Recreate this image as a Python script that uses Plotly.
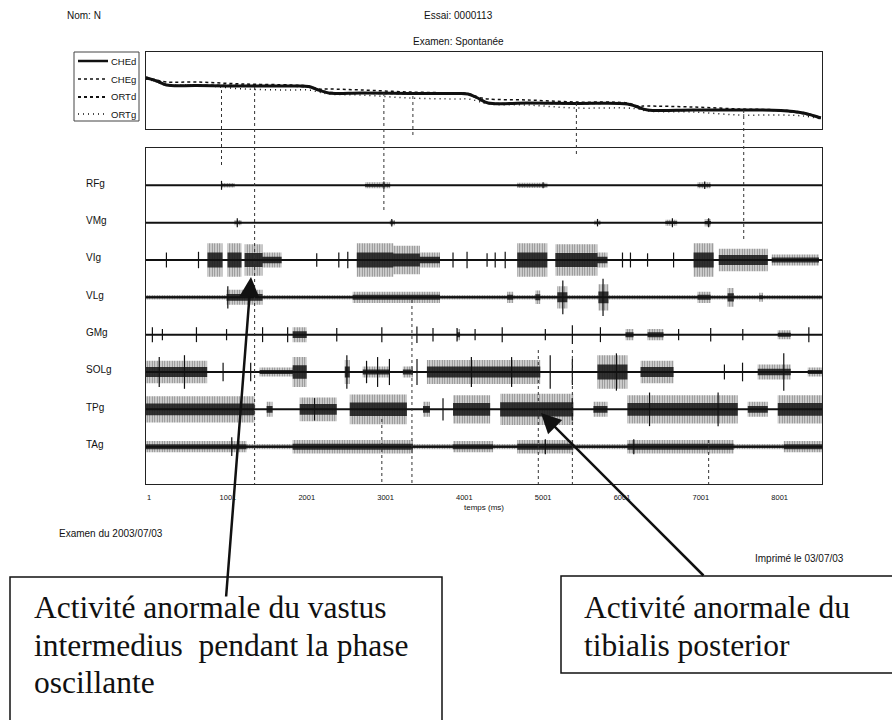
import plotly.graph_objects as go

W, H = 892, 720

# ---------------- data ----------------
time_range = [-38, 8538]
tick_vals = [1, 1001, 2001, 3001, 4001, 5001, 6001, 7001, 8001]
tick_text = [str(v) for v in tick_vals]

# top plot: segment trajectories (arbitrary units)
curve_t = [-38, 100, 221, 600, 1200, 1800, 2026, 2150, 2280, 2700, 3300, 3900, 4047,
           4170, 4302, 4800, 5400, 6070, 6200, 6325, 6900, 7500, 8015, 8300, 8523]
che_d = [51, 48, 44, 43.5, 43, 43, 42.5, 39, 36, 36, 35.5, 35.5, 35,
         31, 26, 26, 25.5, 25, 22, 19, 19, 19, 18.5, 16, 11]
che_g = [52, 49, 47, 47, 45, 44, 43, 40, 40, 39, 37, 36, 35.5,
         32, 30, 29, 27, 26, 23, 23, 22, 20, 19, 16.5, 11.5]
ort_d = [51, 47.5, 44, 43.5, 43.5, 43, 42, 39, 36.5, 36, 35.5, 35, 35,
         30.5, 26, 26, 25.5, 25, 21.5, 19, 19, 19, 18.5, 15.5, 11]
ort_g = [50, 47, 44, 44, 40, 39, 39, 37, 35, 34, 31, 30, 30,
         28, 25, 24, 21, 21, 20, 18, 17, 14, 14, 13, 10]

channels = ["RFg", "VMg", "VIg", "VLg", "GMg", "SOLg", "TPg", "TAg"]

# EMG bursts per channel: (start ms, end ms, half amplitude in channel units)
bursts = {
    "RFg": [(920, 1085, 0.06), (2740, 3060, 0.08), (4672, 5053, 0.07), (6960, 7126, 0.08)],
    "VMg": [(1085, 1174, 0.07), (3056, 3120, 0.07), (5650, 5730, 0.06), (6550, 6700, 0.08), (7050, 7130, 0.1)],
    "VIg": [(742, 933, 0.45), (996, 1174, 0.45), (1213, 1441, 0.42), (1441, 1683, 0.2),
            (2636, 3100, 0.45), (3100, 3437, 0.38), (3437, 3692, 0.2),
            (4672, 5053, 0.45), (5155, 5689, 0.42), (5689, 5816, 0.2),
            (6909, 7164, 0.45), (7228, 7850, 0.3), (7900, 8500, 0.15)],
    "VLg": [(-38, 8538, 0.06), (984, 1441, 0.2), (2585, 3692, 0.15), (4544, 4621, 0.15),
            (4901, 4964, 0.18), (5180, 5307, 0.3), (5701, 5829, 0.35), (6960, 7126, 0.15),
            (7340, 7420, 0.25), (7740, 7790, 0.12)],
    "GMg": [(1823, 2001, 0.2), (3908, 3946, 0.15), (6045, 6147, 0.15), (6325, 6528, 0.15), (7977, 8142, 0.12)],
    "SOLg": [(-38, 738, 0.3), (1403, 1823, 0.12), (1823, 2001, 0.4), (2484, 2547, 0.32),
             (2712, 3056, 0.15), (3221, 3348, 0.15), (3526, 4964, 0.32), (5689, 6070, 0.45),
             (6236, 6655, 0.3), (7723, 8142, 0.2), (8358, 8538, 0.12)],
    "TPg": [(-38, 1338, 0.35), (1492, 1568, 0.2), (1912, 2382, 0.32), (2547, 3272, 0.4),
            (3476, 3564, 0.2), (3857, 4328, 0.38), (4455, 5383, 0.42), (5638, 5816, 0.2),
            (6070, 7469, 0.38), (7596, 7850, 0.2), (7977, 8538, 0.38)],
    "TAg": [(-38, 8538, 0.07), (-38, 1238, 0.15), (1823, 3348, 0.18), (3857, 4366, 0.15),
            (4672, 5383, 0.18), (6070, 7418, 0.18), (8053, 8538, 0.15)],
}

# isolated spikes per channel: (time ms, half amplitude)
spikes = {
    "RFg": [(920, 0.12), (2980, 0.1), (5000, 0.08), (7050, 0.1)],
    "VMg": [(1120, 0.12), (3080, 0.1), (5690, 0.1), (6640, 0.12), (7100, 0.12)],
    "VIg": [(221, 0.2), (628, 0.22), (2128, 0.18), (2408, 0.2), (2522, 0.22), (3857, 0.2),
            (4035, 0.22), (4289, 0.18), (4392, 0.2), (4519, 0.22), (6007, 0.2), (6108, 0.2),
            (6325, 0.18), (6655, 0.2)],
    "VLg": [(1000, 0.3), (5250, 0.45), (5760, 0.5)],
    "GMg": [(43, 0.2), (170, 0.15), (602, 0.2), (984, 0.15), (1441, 0.2), (1759, 0.2), (2382, 0.18),
            (2954, 0.2), (3399, 0.22), (3603, 0.18), (3908, 0.18), (4137, 0.15), (4481, 0.2),
            (5028, 0.15), (5371, 0.25), (5727, 0.2), (6719, 0.15), (7126, 0.18), (7533, 0.15), (8371, 0.2)],
    "SOLg": [(130, 0.4), (450, 0.45), (940, 0.25), (1290, 0.25), (2510, 0.45), (2760, 0.3),
             (2900, 0.4), (3050, 0.35), (3400, 0.35), (4090, 0.4), (4600, 0.4), (5090, 0.45),
             (5371, 0.35), (5930, 0.5), (7300, 0.2), (7530, 0.25), (8053, 0.5)],
    "TPg": [(2100, 0.3), (3730, 0.3), (5370, 0.3), (6350, 0.45), (7220, 0.45)],
    "TAg": [(1050, 0.25), (5028, 0.2), (6150, 0.2)],
}

# gait events (ms) with the vertical extent of their dotted marks (page px)
event_times = [920, 1340, 2980, 2954, 3348, 3336, 5422, 5371, 4939, 7545, 7100]
event_spans = [(90, 165), (87, 484), (93, 210), (413, 484), (96, 135), (300, 484),
               (103, 155), (350, 484), (350, 484), (110, 240), (440, 484)]

# ---------------- helpers ----------------
def px(x):
    return x / W

def py(y):
    return 1 - y / H

FONT = "Liberation Sans, Arial, sans-serif"
SERIF = "Liberation Serif, Times New Roman, serif"
INK = "#111111"

fig = go.Figure()

# top plot curves
fig.add_trace(go.Scatter(x=curve_t, y=che_d, mode="lines", line=dict(color=INK, width=3, shape="spline"),
                         name="CHEd", xaxis="x", yaxis="y"))
fig.add_trace(go.Scatter(x=curve_t, y=che_g, mode="lines", line=dict(color=INK, width=1.5, dash="dot", shape="spline"),
                         name="CHEg", xaxis="x", yaxis="y"))
fig.add_trace(go.Scatter(x=curve_t, y=ort_d, mode="lines", line=dict(color=INK, width=2, dash="3px,3px", shape="spline"),
                         name="ORTd", xaxis="x", yaxis="y"))
fig.add_trace(go.Scatter(x=curve_t, y=ort_g, mode="lines", line=dict(color=INK, width=1.5, dash="1px,4px", shape="spline"),
                         name="ORTg", xaxis="x", yaxis="y"))


def burst_polys(items, i, scale):
    xs, ys = [], []
    for t0, t1, a in items:
        h = a * scale
        xs += [t0, t1, t1, t0, t0, None]
        ys += [i - h, i - h, i + h, i + h, i - h, None]
    return xs, ys


# EMG channels
for i, ch in enumerate(channels, start=1):
    bx, by = burst_polys(bursts[ch], i, 1.0)
    fig.add_trace(go.Scatter(x=bx, y=by, mode="lines", fill="toself", line=dict(width=0, color=INK),
                             fillcolor="rgba(0,0,0,0)",
                             fillpattern=dict(shape="|", size=2.5, solidity=0.6, fgcolor=INK),
                             xaxis="x2", yaxis="y2", hoverinfo="skip"))
    cx, cy = burst_polys(bursts[ch], i, 0.45)
    fig.add_trace(go.Scatter(x=cx, y=cy, mode="lines", fill="toself", line=dict(width=0, color=INK),
                             fillcolor="rgba(20,20,20,0.85)",
                             xaxis="x2", yaxis="y2", hoverinfo="skip"))
    sx, sy = [], []
    for t, a in spikes[ch]:
        sx += [t, t, None]
        sy += [i - a, i + a, None]
    fig.add_trace(go.Scatter(x=sx, y=sy, mode="lines", line=dict(width=1.2, color=INK),
                             xaxis="x2", yaxis="y2", hoverinfo="skip"))
    fig.add_trace(go.Scatter(x=time_range, y=[i, i], mode="lines", line=dict(width=2, color=INK),
                             xaxis="x2", yaxis="y2", hoverinfo="skip"))

shapes = []
for t, (y0, y1) in zip(event_times, event_spans):
    shapes.append(dict(type="line", xref="x2", yref="paper", x0=t, x1=t, y0=py(y0), y1=py(y1),
                       line=dict(color="#333", width=1, dash="dot")))

# legend box and samples
shapes.append(dict(type="rect", xref="paper", yref="paper", x0=px(74), x1=px(139), y0=py(121), y1=py(52),
                   line=dict(color="#444", width=1)))
leg = [("CHEd", 61, dict(width=2.5)), ("CHEg", 79, dict(width=1.5, dash="dot")),
       ("ORTd", 97, dict(width=2, dash="3px,3px")), ("ORTg", 114, dict(width=1.5, dash="1px,4px"))]
ann = []
for name, yy, ln in leg:
    shapes.append(dict(type="line", xref="paper", yref="paper", x0=px(78), x1=px(108), y0=py(yy), y1=py(yy),
                       line=dict(color=INK, **ln)))
    ann.append(dict(text=name, x=px(109), y=py(yy), xref="paper", yref="paper", xanchor="left",
                    yanchor="middle", showarrow=False, font=dict(family=FONT, size=9.5, color=INK)))

# annotation boxes
shapes.append(dict(type="rect", xref="paper", yref="paper", x0=px(10), x1=px(442), y0=py(724), y1=py(577),
                   line=dict(color=INK, width=1.5)))
shapes.append(dict(type="rect", xref="paper", yref="paper", x0=px(561), x1=px(896), y0=py(673), y1=py(576),
                   line=dict(color=INK, width=1.5)))

def txt(s, x, y, size=10, anchor="left", family=FONT):
    ann.append(dict(text=s, x=px(x), y=py(y), xref="paper", yref="paper",
                    xanchor=anchor, yanchor="middle", showarrow=False,
                    font=dict(family=family, size=size, color=INK)))

txt("Nom: N", 65, 15)
txt("Essai: 0000113", 458, 15, anchor="center")
txt("Examen: Spontanée", 458, 41, anchor="center")
txt("temps (ms)", 484, 507, size=8, anchor="center")
txt("Examen du 2003/07/03", 57, 533)
txt("Imprimé le 03/07/03", 753, 558)

for i, ch in enumerate(channels, start=1):
    ann.append(dict(text=ch, x=px(84), y=i, xref="paper", yref="y2", xanchor="left", yanchor="middle",
                    yshift=2, showarrow=False, font=dict(family=FONT, size=10, color=INK)))

txt("Activité anormale du vastus", 32, 607, size=31.5, family=SERIF)
txt("intermedius  pendant la phase", 32, 645, size=31.5, family=SERIF)
txt("oscillante", 32, 682, size=31.5, family=SERIF)
txt("Activité anormale du", 582, 607, size=31.5, family=SERIF)
txt("tibialis posterior", 582, 645, size=31.5, family=SERIF)

# arrows
ann.append(dict(text="", x=px(251), y=py(277), xref="paper", yref="paper", showarrow=True,
                ax=-25, ay=321, arrowhead=2, arrowsize=1.6, arrowwidth=2.5, arrowcolor=INK))
ann.append(dict(text="", x=px(541), y=py(413), xref="paper", yref="paper", showarrow=True,
                ax=164, ay=164, arrowhead=2, arrowsize=1.6, arrowwidth=2.5, arrowcolor=INK))

axis_common = dict(showgrid=False, zeroline=False, showline=True, mirror=True, linecolor="#222", linewidth=1)
xdom = [px(146), px(822)]

fig.update_layout(
    width=W, height=H, margin=dict(l=0, r=0, t=0, b=0),
    paper_bgcolor="white", plot_bgcolor="white", showlegend=False,
    xaxis=dict(domain=xdom, range=time_range, showticklabels=False, ticks="", anchor="y", **axis_common),
    yaxis=dict(domain=[py(129), py(52)], range=[0, 77], showticklabels=False, ticks="", anchor="x", **axis_common),
    xaxis2=dict(domain=xdom, range=time_range, tickvals=tick_vals, ticktext=tick_text, ticks="outside",
                ticklen=6, tickcolor="rgba(0,0,0,0)", tickfont=dict(family=FONT, size=7.5, color=INK),
                anchor="y2", **axis_common),
    yaxis2=dict(domain=[py(484), py(148)], range=[9, 0], showticklabels=False, ticks="", anchor="x2", **axis_common),
    shapes=shapes, annotations=ann,
)

fig.write_html("out.html")
